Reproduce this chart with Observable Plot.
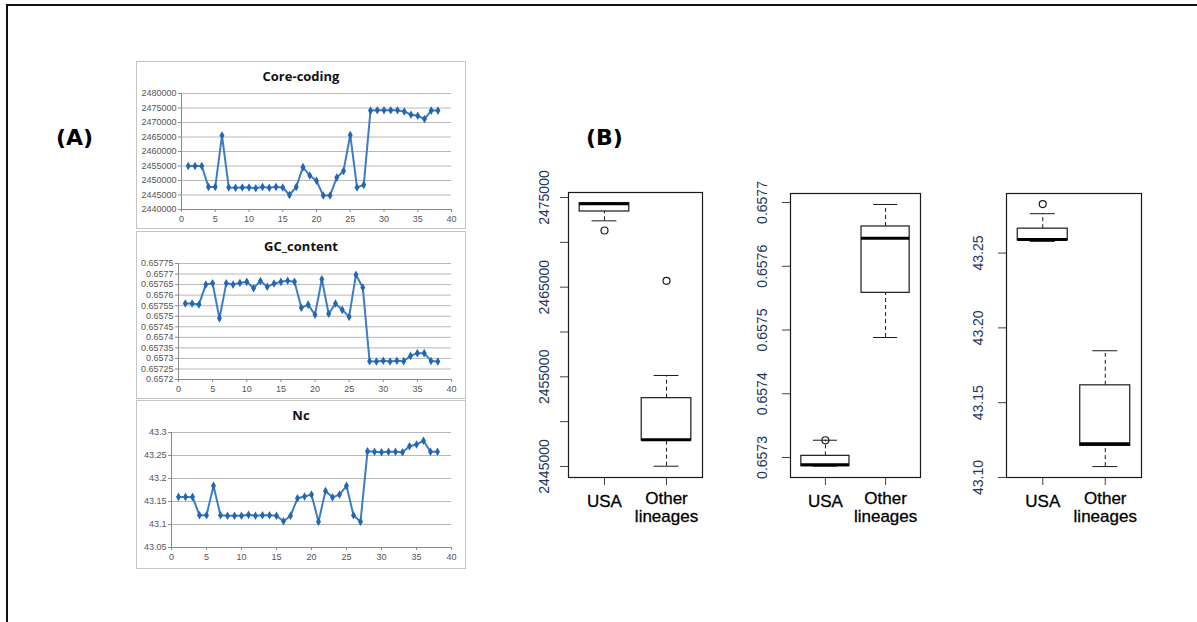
<!DOCTYPE html>
<html>
<head>
<meta charset="utf-8">
<script src="https://cdn.jsdelivr.net/npm/d3@7"></script>
<script src="https://cdn.jsdelivr.net/npm/@observablehq/plot@0.6"></script>
<style>
  body { margin: 0; background: #fff; }
  #root { position: relative; width: 1197px; height: 622px; overflow: hidden; background: #fff; font-family: "Liberation Sans", Arial, sans-serif; }
  .abs { position: absolute; }
  .frameBox { position: absolute; box-sizing: border-box; border: 1px solid #c4c4c4; background: #fff; }
  .frameBox svg { position: absolute; left: 0; top: 0; }
  .xtitle { position: absolute; left: 0; width: 100%; text-align: center; font-family: "Open Sans", "DejaVu Sans", sans-serif; font-weight: bold; font-size: 13px; line-height: 14px; color: #111; }
  .panel { position: absolute; font-family: "DejaVu Sans", Verdana, sans-serif; font-weight: bold; font-size: 22px; color: #000; }
</style>
</head>
<body>
<div id="root"></div>
<script>
// ---------- (A) line charts: sample index 1..38 ----------
const sampleIndex = [1,2,3,4,5,6,7,8,9,10,11,12,13,14,15,16,17,18,19,20,21,22,23,24,25,26,27,28,29,30,31,32,33,34,35,36,37,38];
const coreCoding = [2455000,2455000,2455000,2447800,2447800,2465500,2447600,2447500,2447600,2447600,
                    2447300,2447800,2447500,2447800,2447600,2445000,2447800,2454600,2451700,2449900,
                    2444800,2444800,2451000,2453300,2465700,2447600,2448500,2474100,2474200,2474200,
                    2474200,2474200,2473800,2472700,2472300,2471200,2474100,2474100];
const gcContent = [0.65756,0.65756,0.657556,0.65765,0.657656,0.65749,0.657656,0.65765,0.657658,0.657663,
                   0.657633,0.657667,0.65764,0.657655,0.657663,0.657668,0.657663,0.65754,0.657555,0.657507,
                   0.657675,0.657512,0.65756,0.65753,0.657497,0.657697,0.657636,0.657287,0.657285,0.657289,
                   0.657285,0.657289,0.657287,0.657312,0.657325,0.657325,0.657288,0.657285];
const ncValues = [43.16,43.16,43.16,43.12,43.12,43.184,43.12,43.119,43.119,43.119,
                  43.121,43.119,43.12,43.12,43.119,43.107,43.119,43.157,43.161,43.165,
                  43.106,43.173,43.159,43.165,43.184,43.12,43.106,43.259,43.258,43.257,
                  43.258,43.258,43.257,43.27,43.274,43.282,43.258,43.258];
const lineXTicks = [0,5,10,15,20,25,30,35,40];
const coreYTicks = [2440000,2445000,2450000,2455000,2460000,2465000,2470000,2475000,2480000];
const gcYTicks = [0.6572,0.65725,0.6573,0.65735,0.6574,0.65745,0.6575,0.65755,0.6576,0.65765,0.6577,0.65775];
const ncYTicks = [43.05,43.1,43.15,43.2,43.25,43.3];
const lineTitles = ["Core-coding", "GC_content", "Nc"];

// ---------- (B) box plots: [lower whisker, Q1, median, Q3, upper whisker] ----------
const boxGroups = ["USA", "Other\nlineages"];
const coreBoxUSA = [2472400, 2473440, 2474300, 2474360, 2474360];
const coreBoxOther = [2445030, 2447900, 2447980, 2452620, 2455150];
const coreOutUSA = [2471320];
const coreOutOther = [2465710];
const coreBoxTicks = [2445000, 2450000, 2455000, 2460000, 2465000, 2470000, 2475000];
const coreBoxLabels = ["2445000", "", "2455000", "", "2465000", "", "2475000"];

const gcBoxUSA = [0.6572864, 0.6572864, 0.6572886, 0.6573026, 0.6573271];
const gcBoxOther = [0.6574882, 0.6575583, 0.6576440, 0.6576624, 0.6576969];
const gcOutUSA = [0.6573271];
const gcOutOther = [];
const gcBoxTicks = [0.6573, 0.6574, 0.6575, 0.6576, 0.6577];
const gcBoxLabels = ["0.6573", "0.6574", "0.6575", "0.6576", "0.6577"];

const ncBoxUSA = [43.2578, 43.2585, 43.2591, 43.2663, 43.2763];
const ncBoxOther = [43.1073, 43.1211, 43.1225, 43.1616, 43.1847];
const ncOutUSA = [43.2827];
const ncOutOther = [];
const ncBoxTicks = [43.10, 43.15, 43.20, 43.25];
const ncBoxLabels = ["43.10", "43.15", "43.20", "43.25"];

const root = document.getElementById("root");

// outer border
const outer = document.createElement("div");
outer.className = "abs";
Object.assign(outer.style, {left: "6px", top: "4px", width: "1300px", height: "700px", borderLeft: "2px solid #111", borderTop: "2px solid #111", boxSizing: "border-box"});
root.appendChild(outer);

function addPanelLabel(text, left, top) {
  const d = document.createElement("div");
  d.className = "panel";
  d.textContent = text;
  d.style.left = left + "px";
  d.style.top = top + "px";
  root.appendChild(d);
}
addPanelLabel("(A)", 56, 125);
addPanelLabel("(B)", 586, 125);

const fmtGeneral = d => String(+d.toFixed(6));

function excelChart({values, yTicks, title, left, top, w, h, mL, mR, mT, mB}) {
  const rows = sampleIndex.map((x, i) => ({x, y: values[i]}));
  const box = document.createElement("div");
  box.className = "frameBox";
  Object.assign(box.style, {left: left + "px", top: top + "px", width: (w + 2) + "px", height: (h + 2) + "px"});
  const t = document.createElement("div");
  t.className = "xtitle";
  t.style.top = "7px";
  t.textContent = title;
  const plot = Plot.plot({
    width: w, height: h,
    marginLeft: mL, marginRight: mR, marginTop: mT, marginBottom: mB,
    style: {fontFamily: "'Liberation Sans', Arial, sans-serif", fontSize: "9px", color: "#555", background: "transparent", overflow: "visible"},
    x: {domain: [0, 40]},
    y: {domain: [yTicks[0], yTicks[yTicks.length - 1]]},
    marks: [
      Plot.gridY(yTicks, {stroke: "#b8b8b8", strokeOpacity: 1}),
      Plot.axisY(yTicks, {label: null, tickSize: 3, tickPadding: 2, tickFormat: fmtGeneral, stroke: "#8a8a8a"}),
      Plot.axisX(lineXTicks, {label: null, tickSize: 3, tickPadding: 3, tickFormat: d => String(d), stroke: "#8a8a8a"}),
      Plot.ruleX([0], {stroke: "#8a8a8a"}),
      Plot.ruleY([yTicks[0]], {stroke: "#8a8a8a"}),
      Plot.line(rows, {x: "x", y: "y", stroke: "#3d7dc3", strokeWidth: 2}),
      Plot.dot(rows, {x: "x", y: "y", symbol: "diamond", r: 2.6, fill: "#2466b0", stroke: "none"})
    ]
  });
  box.appendChild(plot);
  box.appendChild(t);
  root.appendChild(box);
}

excelChart({values: coreCoding, yTicks: coreYTicks, title: lineTitles[0], left: 136, top: 61, w: 328, h: 166, mL: 44, mR: 14, mT: 31, mB: 19});
excelChart({values: gcContent, yTicks: gcYTicks, title: lineTitles[1], left: 136, top: 231, w: 328, h: 166, mL: 41, mR: 14, mT: 31, mB: 19});
excelChart({values: ncValues, yTicks: ncYTicks, title: lineTitles[2], left: 136, top: 400, w: 328, h: 167, mL: 34, mR: 14, mT: 31, mB: 21});

function boxChart({usa, other, outUSA, outOther, ticks, labels, domain, left, top, w, h, mL, mR, mT, mB, labelDx}) {
  const stats = [usa, other].map((s, i) => ({g: i + 1, lo: s[0], q1: s[1], med: s[2], q3: s[3], hi: s[4]}));
  const outs = outUSA.map(v => ({g: 1, v})).concat(outOther.map(v => ({g: 2, v})));
  const tickRows = ticks.map((t, i) => ({t, label: labels[i]}));
  const ink = "#1a1a1a";
  const plot = Plot.plot({
    width: w, height: h,
    marginLeft: mL, marginRight: mR, marginTop: mT, marginBottom: mB,
    style: {fontFamily: "'Liberation Sans', Arial, sans-serif", background: "transparent", overflow: "visible", color: ink},
    x: {domain: [0.42, 2.58]},
    y: {domain},
    marks: [
      Plot.axisY(ticks, {label: null, tickSize: 8, tickFormat: () => "", stroke: "#444"}),
      Plot.axisX([1, 2], {label: null, tickSize: 8, tickFormat: () => "", stroke: "#444"}),
      Plot.text(tickRows, {y: "t", text: "label", frameAnchor: "left", dx: labelDx, rotate: -90, textAnchor: "middle", lineAnchor: "middle", fill: "#24365e", fontSize: 14}),
      Plot.text([boxGroups[0]], {x: [1], text: d => d, frameAnchor: "bottom", dy: 24, lineAnchor: "middle", fill: "#000", fontSize: 17, stroke: "#000", strokeWidth: 0.3}),
      Plot.text([boxGroups[1]], {x: [2], text: d => d, frameAnchor: "bottom", dy: 30, lineAnchor: "middle", lineHeight: 1.05, fill: "#000", fontSize: 17, stroke: "#000", strokeWidth: 0.3}),
      Plot.ruleX(stats, {x: "g", y1: "q3", y2: "hi", stroke: ink, strokeDasharray: "4,3"}),
      Plot.ruleX(stats, {x: "g", y1: "lo", y2: "q1", stroke: ink, strokeDasharray: "4,3"}),
      Plot.ruleY(stats, {y: "hi", x1: d => d.g - 0.2, x2: d => d.g + 0.2, stroke: ink}),
      Plot.ruleY(stats, {y: "lo", x1: d => d.g - 0.2, x2: d => d.g + 0.2, stroke: ink}),
      Plot.rect(stats, {x1: d => d.g - 0.4, x2: d => d.g + 0.4, y1: "q1", y2: "q3", fill: "white", stroke: ink, strokeWidth: 1.2}),
      Plot.ruleY(stats, {y: "med", x1: d => d.g - 0.4, x2: d => d.g + 0.4, stroke: "#000", strokeWidth: 3}),
      Plot.dot(outs, {x: "g", y: "v", r: 3.5, stroke: ink, strokeWidth: 1.2, fill: "none"}),
      Plot.frame({stroke: ink, strokeWidth: 1.2})
    ]
  });
  plot.style.position = "absolute";
  plot.style.left = left + "px";
  plot.style.top = top + "px";
  root.appendChild(plot);
}

boxChart({usa: coreBoxUSA, other: coreBoxOther, outUSA: coreOutUSA, outOther: coreOutOther,
  ticks: coreBoxTicks, labels: coreBoxLabels, domain: [2443770, 2475560],
  left: 520, top: 160, w: 200, h: 370, mL: 48, mR: 18, mT: 32, mB: 53, labelDx: -24});
boxChart({usa: gcBoxUSA, other: gcBoxOther, outUSA: gcOutUSA, outOther: gcOutOther,
  ticks: gcBoxTicks, labels: gcBoxLabels, domain: [0.65726863, 0.65771412],
  left: 720, top: 160, w: 220, h: 370, mL: 70, mR: 20, mT: 33, mB: 53, labelDx: -28});
boxChart({usa: ncBoxUSA, other: ncBoxOther, outUSA: ncOutUSA, outOther: ncOutOther,
  ticks: ncBoxTicks, labels: ncBoxLabels, domain: [43.10, 43.2898],
  left: 940, top: 160, w: 220, h: 370, mL: 66, mR: 19, mT: 33, mB: 53, labelDx: -28});
</script>
</body>
</html>
